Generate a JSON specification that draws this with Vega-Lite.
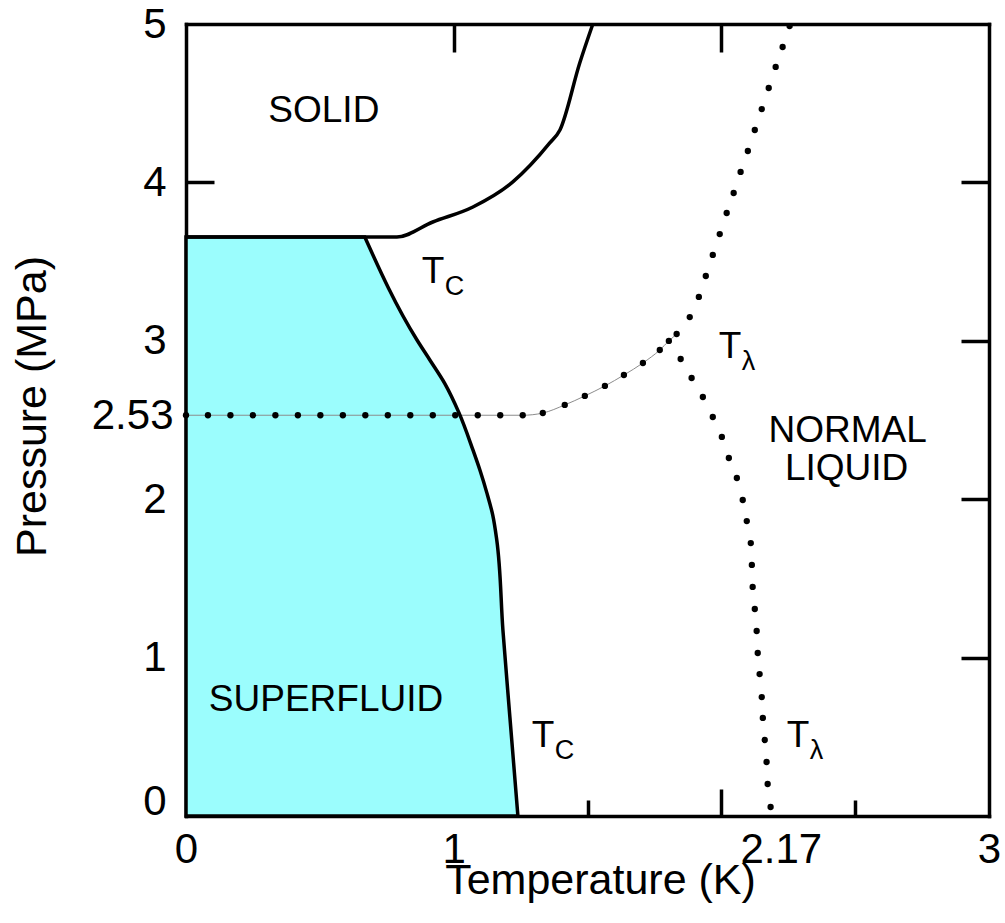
{
  "$schema": "https://vega.github.io/schema/vega-lite/v6.json",
  "width": 803,
  "height": 792,
  "autosize": {"type": "none"},
  "padding": {"left": 186, "top": 24, "right": 16, "bottom": 107},
  "background": "white",
  "config": {
    "view": {"stroke": null},
    "font": "Liberation Sans",
    "axis": {
      "domainColor": "black", "domainWidth": 3.5, "domainCap": "square",
      "tickColor": "black", "tickWidth": 3.5,
      "labelFont": "Liberation Sans", "labelFontSize": 42, "labelColor": "black",
      "titleFont": "Liberation Sans", "titleFontSize": 43, "titleFontWeight": "normal", "titleColor": "black",
      "grid": false, "labelOverlap": false, "labelFlush": false, "labelBound": false, "zindex": 1
    }
  },
  "datasets": {
    "tc": [
      {"T": 0.668, "P": 3.655}, {"T": 0.863, "P": 3.005}, {"T": 0.911, "P": 2.879},
      {"T": 0.967, "P": 2.73}, {"T": 1.02, "P": 2.545}, {"T": 1.072, "P": 2.311},
      {"T": 1.098, "P": 2.184}, {"T": 1.124, "P": 2.04}, {"T": 1.146, "P": 1.9},
      {"T": 1.161, "P": 1.742}, {"T": 1.184, "P": 1.174}, {"T": 1.21, "P": 0.625},
      {"T": 1.24, "P": 0}
    ],
    "melt": [
      {"T": 0, "P": 3.655}, {"T": 0.788, "P": 3.655}, {"T": 0.922, "P": 3.75},
      {"T": 1.072, "P": 3.845}, {"T": 1.221, "P": 4.003}, {"T": 1.359, "P": 4.249},
      {"T": 1.397, "P": 4.331}, {"T": 1.471, "P": 4.754}, {"T": 1.52, "P": 5.0}
    ],
    "lambda": [
      {"T": 0, "P": 2.53, "branch": "h"}, {"T": 0.082, "P": 2.53, "branch": "h"},
      {"T": 0.166, "P": 2.53, "branch": "h"}, {"T": 0.25, "P": 2.53, "branch": "h"},
      {"T": 0.334, "P": 2.53, "branch": "h"}, {"T": 0.418, "P": 2.53, "branch": "h"},
      {"T": 0.502, "P": 2.53, "branch": "h"}, {"T": 0.586, "P": 2.53, "branch": "h"},
      {"T": 0.67, "P": 2.53, "branch": "h"}, {"T": 0.754, "P": 2.53, "branch": "h"},
      {"T": 0.838, "P": 2.53, "branch": "h"}, {"T": 0.922, "P": 2.53, "branch": "h"},
      {"T": 1.006, "P": 2.53, "branch": "h"}, {"T": 1.09, "P": 2.53, "branch": "h"},
      {"T": 1.174, "P": 2.53, "branch": "h"}, {"T": 1.258, "P": 2.53, "branch": "h"},
      {"T": 1.333, "P": 2.544, "branch": "h"}, {"T": 1.415, "P": 2.595, "branch": "h"},
      {"T": 1.49, "P": 2.652, "branch": "h"}, {"T": 1.565, "P": 2.715, "branch": "h"},
      {"T": 1.636, "P": 2.784, "branch": "h"}, {"T": 1.707, "P": 2.86, "branch": "h"},
      {"T": 1.77, "P": 2.942, "branch": "h"}, {"T": 1.804, "P": 2.999, "branch": "h"},
      {"T": 1.833, "P": 3.043, "branch": "h"},
      {"T": 1.882, "P": 3.15, "branch": "up"}, {"T": 1.916, "P": 3.277, "branch": "up"},
      {"T": 1.942, "P": 3.409, "branch": "up"}, {"T": 1.968, "P": 3.542, "branch": "up"},
      {"T": 1.994, "P": 3.674, "branch": "up"}, {"T": 2.02, "P": 3.807, "branch": "up"},
      {"T": 2.046, "P": 3.933, "branch": "up"}, {"T": 2.072, "P": 4.066, "branch": "up"},
      {"T": 2.099, "P": 4.198, "branch": "up"}, {"T": 2.125, "P": 4.331, "branch": "up"},
      {"T": 2.151, "P": 4.463, "branch": "up"}, {"T": 2.177, "P": 4.596, "branch": "up"},
      {"T": 2.203, "P": 4.729, "branch": "up"}, {"T": 2.229, "P": 4.855, "branch": "up"},
      {"T": 2.255, "P": 4.987, "branch": "up"},
      {"T": 1.848, "P": 2.885, "branch": "down"}, {"T": 1.889, "P": 2.765, "branch": "down"},
      {"T": 1.931, "P": 2.645, "branch": "down"}, {"T": 1.968, "P": 2.519, "branch": "down"},
      {"T": 2.002, "P": 2.393, "branch": "down"}, {"T": 2.028, "P": 2.26, "branch": "down"},
      {"T": 2.058, "P": 2.134, "branch": "down"}, {"T": 2.08, "P": 1.995, "branch": "down"},
      {"T": 2.095, "P": 1.862, "branch": "down"}, {"T": 2.11, "P": 1.723, "branch": "down"},
      {"T": 2.114, "P": 1.585, "branch": "down"}, {"T": 2.117, "P": 1.446, "branch": "down"},
      {"T": 2.125, "P": 1.307, "branch": "down"}, {"T": 2.132, "P": 1.168, "branch": "down"},
      {"T": 2.136, "P": 1.029, "branch": "down"}, {"T": 2.143, "P": 0.896, "branch": "down"},
      {"T": 2.151, "P": 0.751, "branch": "down"}, {"T": 2.155, "P": 0.619, "branch": "down"},
      {"T": 2.162, "P": 0.48, "branch": "down"}, {"T": 2.169, "P": 0.341, "branch": "down"},
      {"T": 2.173, "P": 0.202, "branch": "down"}, {"T": 2.184, "P": 0.057, "branch": "down"}
    ],
    "regions": [
      {"T": 0.515, "P": 4.448, "label": "SOLID"},
      {"T": 0.523, "P": 0.732, "label": "SUPERFLUID"},
      {"T": 2.472, "P": 2.431, "label": "NORMAL"},
      {"T": 2.468, "P": 2.191, "label": "LIQUID"}
    ],
    "tlabels": [
      {"T": 0.881, "P": 3.365, "main": "T", "sub": "C"},
      {"T": 1.99, "P": 2.891, "main": "T", "sub": "λ"},
      {"T": 1.292, "P": 0.436, "main": "T", "sub": "C"},
      {"T": 2.244, "P": 0.436, "main": "T", "sub": "λ"}
    ]
  },
  "layer": [
    {
      "data": {"name": "tc"},
      "mark": {"type": "area", "orient": "horizontal", "interpolate": "monotone", "color": "#9BFDFD", "opacity": 1},
      "encoding": {
        "x": {
          "field": "T", "type": "quantitative",
          "scale": {"domain": [0, 3], "nice": false, "zero": false},
          "axis": {
            "orient": "bottom",
            "title": "Temperature (K)",
            "values": [0, 0.5, 1, 1.5, 2, 2.17, 2.5, 3],
            "labelExpr": "(datum.value == 0.5 || datum.value == 1.5 || datum.value == 2 || datum.value == 2.5) ? '' : '' + datum.value",
            "tickSize": {"condition": [{"test": "datum.value == 1 || datum.value == 2", "value": -27}, {"test": "datum.value == 0.5 || datum.value == 1.5 || datum.value == 2.5", "value": -16}], "value": 0},
            "labelPadding": {"condition": [{"test": "datum.value == 1 || datum.value == 2", "value": 40}, {"test": "datum.value == 0.5 || datum.value == 1.5 || datum.value == 2.5", "value": 29}], "value": 13},
            "labelOffset": {"condition": {"test": "datum.value == 2.17", "value": 14}, "value": 0},
            "labelAlign": "center",
            "labelBaseline": "top",
            "titleX": 414,
            "titleY": 77,
            "titleAlign": "center",
            "titleBaseline": "alphabetic"
          }
        },
        "x2": {"datum": 0},
        "y": {
          "field": "P", "type": "quantitative",
          "scale": {"domain": [0, 5], "nice": false, "zero": false},
          "axis": {
            "orient": "left",
            "title": "Pressure (MPa)",
            "values": [0, 1, 2, 2.53, 3, 4, 5],
            "labelExpr": "'' + datum.value",
            "tickSize": {"condition": {"test": "datum.value == 1 || datum.value == 2 || datum.value == 3 || datum.value == 4", "value": -28}, "value": 0},
            "labelPadding": {"condition": [{"test": "datum.value == 1 || datum.value == 2 || datum.value == 3 || datum.value == 4", "value": 48}, {"test": "datum.value == 2.53", "value": 13}], "value": 20},
            "labelOffset": {"condition": {"test": "datum.value == 0", "value": -15}, "value": 0},
            "labelAlign": "right",
            "labelBaseline": "middle",
            "titleX": -141,
            "titleY": 382,
            "titleAngle": 270,
            "titleAlign": "center",
            "titleBaseline": "alphabetic"
          }
        }
      }
    },
    {
      "data": {"name": "melt"},
      "mark": {"type": "line", "color": "black", "strokeWidth": 3.5, "interpolate": "monotone"},
      "encoding": {
        "x": {"field": "T", "type": "quantitative", "axis": {"orient": "top", "title": null, "values": [1, 2], "tickSize": -28, "labels": false}},
        "y": {"field": "P", "type": "quantitative", "axis": {"orient": "right", "title": null, "values": [1, 2, 3, 4], "tickSize": -28, "labels": false}}
      }
    },
    {
      "data": {"name": "lambda"},
      "transform": [{"filter": "datum.branch == 'h'"}],
      "mark": {"type": "line", "color": "#8c8c8c", "strokeWidth": 1, "interpolate": "monotone"},
      "encoding": {
        "x": {"field": "T", "type": "quantitative", "axis": null},
        "y": {"field": "P", "type": "quantitative", "axis": null}
      }
    },
    {
      "data": {"name": "lambda"},
      "mark": {"type": "point", "filled": true, "color": "black", "size": 40, "opacity": 1},
      "encoding": {
        "x": {"field": "T", "type": "quantitative", "axis": null},
        "y": {"field": "P", "type": "quantitative", "axis": null}
      }
    },
    {
      "data": {"name": "tc"},
      "mark": {"type": "area", "orient": "horizontal", "interpolate": "monotone", "fillOpacity": 0, "stroke": "black", "strokeWidth": 3.5},
      "encoding": {
        "x": {"field": "T", "type": "quantitative", "axis": null},
        "x2": {"datum": 0},
        "y": {"field": "P", "type": "quantitative", "axis": null}
      }
    },
    {
      "data": {"name": "regions"},
      "mark": {"type": "text", "font": "Liberation Sans", "fontSize": 37, "color": "black", "align": "center", "baseline": "middle"},
      "encoding": {
        "x": {"field": "T", "type": "quantitative", "axis": null},
        "y": {"field": "P", "type": "quantitative", "axis": null},
        "text": {"field": "label"}
      }
    },
    {
      "data": {"name": "tlabels"},
      "mark": {"type": "text", "font": "Liberation Sans", "fontSize": 37, "color": "black", "align": "left", "baseline": "alphabetic"},
      "encoding": {
        "x": {"field": "T", "type": "quantitative", "axis": null},
        "y": {"field": "P", "type": "quantitative", "axis": null},
        "text": {"field": "main"}
      }
    },
    {
      "data": {"name": "tlabels"},
      "mark": {"type": "text", "font": "Liberation Sans", "fontSize": 27, "color": "black", "align": "left", "baseline": "alphabetic", "dx": 23, "dy": 12},
      "encoding": {
        "x": {"field": "T", "type": "quantitative", "axis": null},
        "y": {"field": "P", "type": "quantitative", "axis": null},
        "text": {"field": "sub"}
      }
    }
  ],
  "resolve": {"axis": {"x": "independent", "y": "independent"}}
}
